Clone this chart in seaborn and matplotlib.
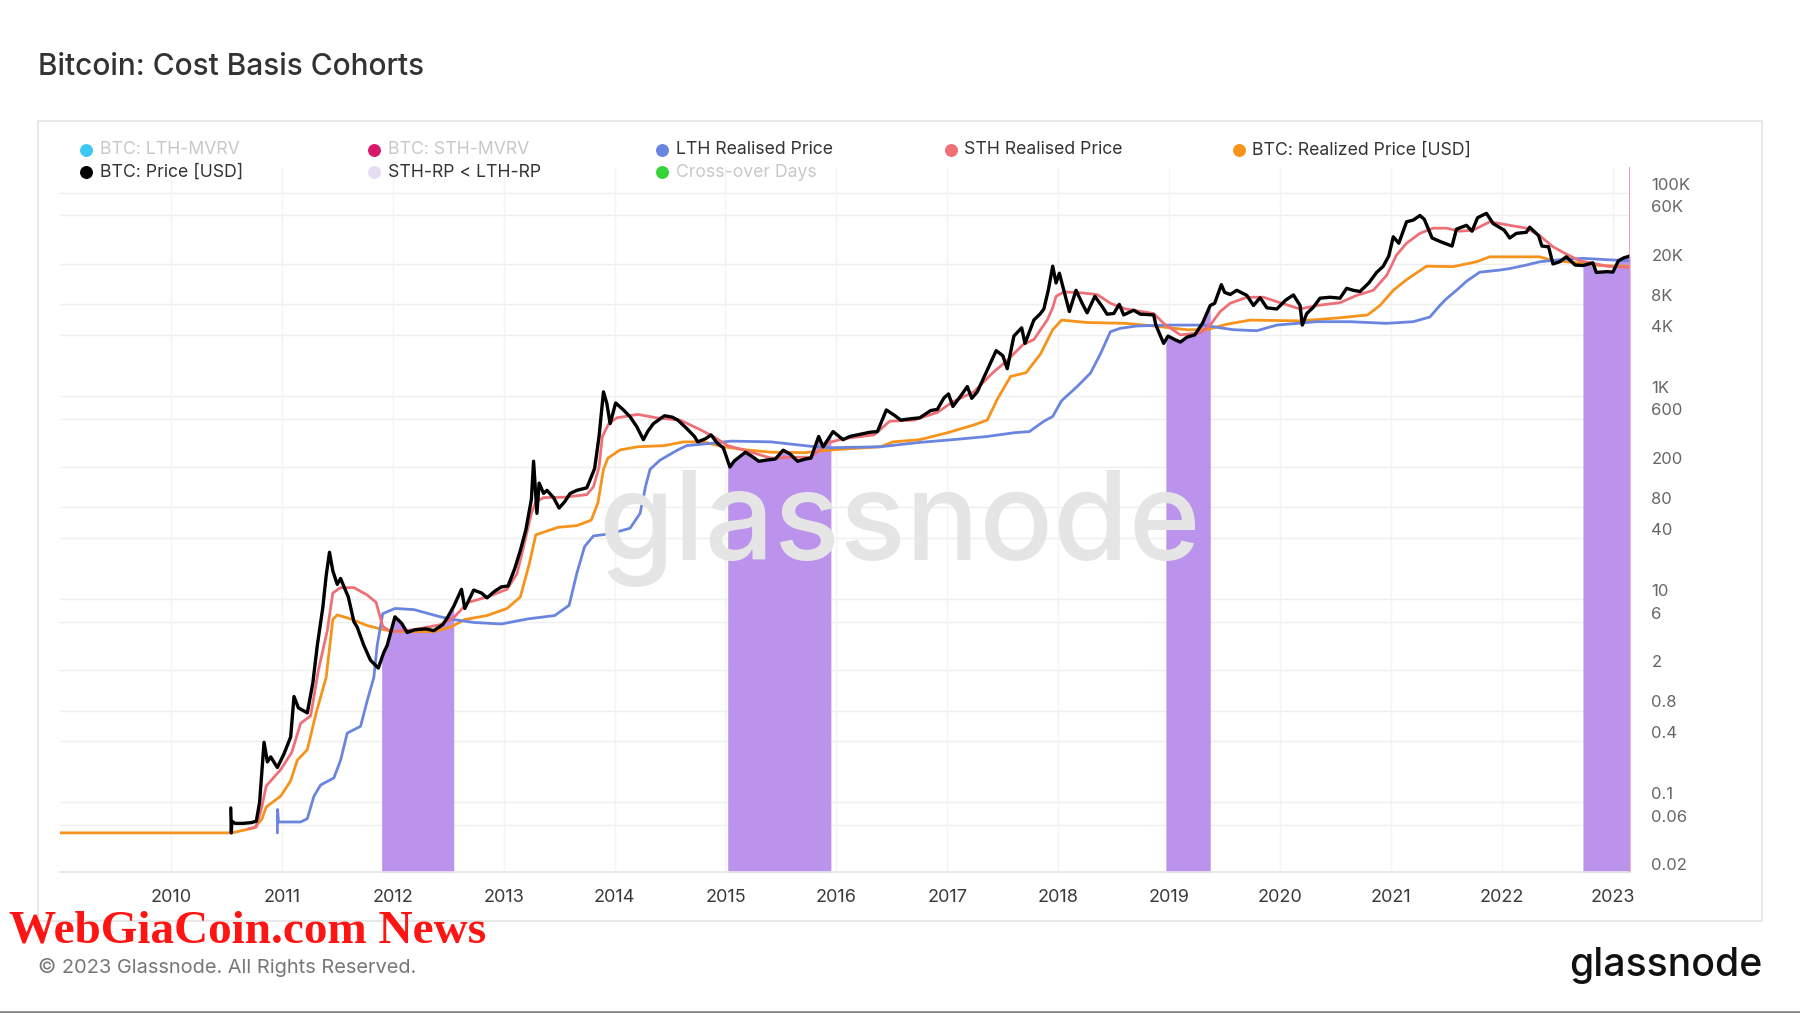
import numpy as np
import matplotlib
matplotlib.use("Agg")
import matplotlib.pyplot as plt
import matplotlib.transforms as mtransforms
from matplotlib.lines import Line2D
from matplotlib.patches import Rectangle
import seaborn as sns

# ---------------------------------------------------------------------------
# Data (x = fractional year, y = USD)
# ---------------------------------------------------------------------------
price_year = [2010.54, 2010.545, 2010.55, 2010.58, 2010.65, 2010.72, 2010.77, 2010.80, 2010.84, 2010.87,
              2010.90, 2010.96, 2011.02, 2011.08, 2011.11, 2011.15, 2011.23, 2011.28, 2011.32, 2011.37,
              2011.40, 2011.43, 2011.46, 2011.50, 2011.53, 2011.56, 2011.60, 2011.65, 2011.68, 2011.74,
              2011.80, 2011.87, 2011.92, 2011.95, 2012.02, 2012.08, 2012.13, 2012.20, 2012.30, 2012.37,
              2012.45, 2012.49, 2012.55, 2012.62, 2012.65, 2012.70, 2012.73, 2012.80, 2012.85, 2012.92,
              2012.98, 2013.04, 2013.10, 2013.15, 2013.20, 2013.25, 2013.27, 2013.30, 2013.32, 2013.36,
              2013.39, 2013.45, 2013.50, 2013.55, 2013.60, 2013.66, 2013.75, 2013.82, 2013.86, 2013.90,
              2013.93, 2013.96, 2014.01, 2014.08, 2014.14, 2014.20, 2014.26, 2014.30, 2014.35, 2014.45,
              2014.52, 2014.57, 2014.65, 2014.72, 2014.75, 2014.82, 2014.87, 2014.93, 2014.98, 2015.04,
              2015.08, 2015.18, 2015.25, 2015.30, 2015.38, 2015.45, 2015.52, 2015.58, 2015.65, 2015.72,
              2015.77, 2015.84, 2015.88, 2015.97, 2016.06, 2016.12, 2016.21, 2016.30, 2016.37, 2016.45,
              2016.52, 2016.58, 2016.68, 2016.75, 2016.85, 2016.91, 2016.97, 2017.01, 2017.05, 2017.12,
              2017.18, 2017.22, 2017.27, 2017.36, 2017.44, 2017.50, 2017.54, 2017.60, 2017.67, 2017.70,
              2017.78, 2017.84, 2017.87, 2017.91, 2017.95, 2017.98, 2018.01, 2018.05, 2018.10, 2018.16,
              2018.22, 2018.26, 2018.33, 2018.40, 2018.44, 2018.50, 2018.55, 2018.59, 2018.68, 2018.74,
              2018.86, 2018.88, 2018.95, 2018.99, 2019.05, 2019.10, 2019.16, 2019.23, 2019.30, 2019.37,
              2019.41, 2019.47, 2019.50, 2019.55, 2019.61, 2019.70, 2019.76, 2019.82, 2019.88, 2019.97,
              2020.05, 2020.12, 2020.18, 2020.20, 2020.24, 2020.30, 2020.36, 2020.45, 2020.54, 2020.60,
              2020.66, 2020.72, 2020.80, 2020.87, 2020.93, 2020.98, 2021.02, 2021.07, 2021.14, 2021.20,
              2021.26, 2021.30, 2021.37, 2021.45, 2021.55, 2021.59, 2021.68, 2021.73, 2021.78, 2021.86,
              2021.92, 2022.02, 2022.07, 2022.13, 2022.22, 2022.25, 2022.33, 2022.36, 2022.42, 2022.46,
              2022.52, 2022.58, 2022.66, 2022.73, 2022.82, 2022.85, 2022.95, 2023.00, 2023.05, 2023.10,
              2023.13, 2023.155]
price_usd = [0.088, 0.05, 0.065, 0.062, 0.062, 0.063, 0.065, 0.1, 0.39, 0.25,
             0.28, 0.22, 0.3, 0.44, 1.1, 0.85, 0.76, 1.5, 3.5, 8.3,
             17, 29, 19, 14, 16, 13.3, 10.5, 6.0, 5.3, 3.5,
             2.5, 2.1, 3.0, 3.5, 6.7, 5.8, 4.7, 5.0, 5.1, 4.9,
             5.6, 6.5, 8.5, 12.5, 8.1, 10.5, 12.3, 11.5, 10.3, 12.0,
             13.2, 13.5, 20, 30, 48, 96, 228, 70, 139, 110,
             118, 100, 79, 91, 110, 118, 125, 193, 400, 1100,
             850, 535, 855, 730, 625, 500, 372, 450, 535, 640,
             620, 580, 480, 400, 354, 380, 414, 340, 310, 200,
             230, 280, 250, 228, 235, 240, 293, 270, 228, 240,
             245, 400, 316, 447, 372, 400, 420, 440, 447, 730,
             650, 580, 600, 610, 720, 740, 960, 1050, 790, 1000,
             1240, 950, 1100, 1800, 2800, 2500, 1860, 3900, 4700, 3300,
             5600, 6500, 7200, 11000, 19000, 13000, 16200, 11000, 6800, 11000,
             8000, 6600, 9600, 7500, 6400, 6500, 8000, 6300, 7000, 6400,
             6300, 5000, 3300, 3900, 3600, 3400, 3800, 4000, 5200, 7800,
             8200, 12500, 10500, 10000, 11000, 9800, 7800, 9300, 7400, 7200,
             8800, 9900, 7800, 5000, 6500, 7500, 9200, 9400, 9200, 11500,
             11000, 10700, 13000, 16500, 19000, 24000, 37000, 32000, 52000, 54000,
             60000, 55000, 36000, 33000, 30000, 44000, 48000, 42000, 57000, 63000,
             50000, 43000, 36000, 40000, 41000, 46000, 38000, 30000, 29500, 20000,
             21000, 23500, 19500, 19300, 20500, 16500, 16800, 16600, 21500, 23000,
             23500, 24000]

lth_year = [2010.96, 2010.962, 2010.97, 2011.17, 2011.23, 2011.29, 2011.35, 2011.47, 2011.53, 2011.59,
            2011.71, 2011.77, 2011.83, 2011.86, 2011.91, 2012.02, 2012.19, 2012.43, 2012.55, 2012.73,
            2012.98, 2013.22, 2013.46, 2013.59, 2013.66, 2013.73, 2013.81, 2013.96, 2014.14, 2014.23,
            2014.28, 2014.32, 2014.41, 2014.57, 2014.65, 2014.84, 2015.05, 2015.41, 2015.77, 2015.95,
            2016.40, 2016.75, 2017.05, 2017.36, 2017.60, 2017.74, 2017.87, 2017.95, 2018.03, 2018.17,
            2018.29, 2018.38, 2018.47, 2018.56, 2018.71, 2019.01, 2019.31, 2019.46, 2019.58, 2019.79,
            2019.97, 2020.33, 2020.63, 2020.96, 2021.20, 2021.35, 2021.44, 2021.50, 2021.59, 2021.68,
            2021.80, 2021.98, 2022.07, 2022.22, 2022.34, 2022.52, 2022.73, 2022.95, 2023.155]
lth_usd = [0.05, 0.085, 0.064, 0.064, 0.069, 0.115, 0.148, 0.174, 0.26, 0.48,
           0.56, 1.0, 1.7, 3.5, 7.2, 8.1, 7.9, 6.7, 6.3, 5.9,
           5.7, 6.4, 6.9, 8.7, 18, 33, 42, 44, 50, 70,
           130, 190, 234, 295, 325, 340, 360, 354, 320, 310,
           317, 350, 372, 400, 435, 447, 565, 630, 900, 1240,
           1680, 2600, 4300, 4650, 4900, 5000, 5000, 4700, 4500, 4400,
           5000, 5400, 5400, 5200, 5400, 6000, 7800, 9100, 11000, 13500,
           16600, 17400, 18000, 19500, 21000, 22000, 22700, 22000, 21500]

sth_year = [2010.70, 2010.77, 2010.82, 2010.86, 2010.99, 2011.09, 2011.17, 2011.26, 2011.33, 2011.41,
            2011.46, 2011.53, 2011.65, 2011.77, 2011.85, 2011.91, 2011.98, 2012.19, 2012.43, 2012.55,
            2012.68, 2012.85, 2013.03, 2013.12, 2013.18, 2013.25, 2013.29, 2013.36, 2013.55, 2013.75,
            2013.81, 2013.86, 2013.89, 2013.95, 2014.02, 2014.21, 2014.38, 2014.59, 2014.75, 2014.89,
            2015.02, 2015.16, 2015.41, 2015.62, 2015.77, 2015.92, 2016.06, 2016.34, 2016.48, 2016.70,
            2016.91, 2017.05, 2017.24, 2017.41, 2017.54, 2017.68, 2017.78, 2017.84, 2017.90, 2017.95,
            2017.98, 2018.05, 2018.20, 2018.35, 2018.47, 2018.61, 2018.86, 2018.95, 2019.10, 2019.28,
            2019.37, 2019.46, 2019.55, 2019.70, 2019.85, 2020.00, 2020.18, 2020.33, 2020.54, 2020.69,
            2020.84, 2020.96, 2021.05, 2021.14, 2021.26, 2021.38, 2021.50, 2021.62, 2021.74, 2021.89,
            2021.98, 2022.07, 2022.22, 2022.34, 2022.46, 2022.58, 2022.70, 2022.82, 2022.95, 2023.155]
sth_usd = [0.055, 0.057, 0.09, 0.145, 0.21, 0.31, 0.6, 0.71, 2.0, 4.9,
           11.5, 13, 13, 11, 9.3, 5.4, 4.8, 5.0, 5.6, 6.6,
           9.3, 10.5, 12.5, 17.8, 33, 70, 91, 100, 101, 107,
           128, 200, 400, 540, 610, 660, 610, 580, 480, 400,
           325, 295, 245, 250, 250, 345, 380, 415, 565, 580,
           690, 880, 1100, 1700, 2240, 3200, 3600, 4500, 5600, 7400,
           9600, 10600, 10400, 10000, 8200, 7200, 6500, 5200, 4000, 4200,
           5000, 6800, 8200, 9400, 9400, 8300, 7200, 7800, 8300, 9800,
           11000, 15400, 24500, 32000, 40000, 45000, 45000, 42000, 43000, 52000,
           50000, 48000, 45000, 38000, 29500, 25000, 21500, 20300, 19000, 18500]

rp_year = [2009.0, 2010.55, 2010.75, 2010.82, 2010.86, 2010.99, 2011.08, 2011.14, 2011.23, 2011.31,
           2011.40, 2011.46, 2011.50, 2011.62, 2011.77, 2011.92, 2012.06, 2012.37, 2012.52, 2012.65,
           2012.85, 2013.03, 2013.15, 2013.23, 2013.29, 2013.49, 2013.66, 2013.79, 2013.85, 2013.90,
           2013.94, 2014.05, 2014.21, 2014.45, 2014.62, 2014.80, 2014.98, 2015.19, 2015.41, 2015.71,
           2015.95, 2016.40, 2016.51, 2016.75, 2017.00, 2017.24, 2017.36, 2017.45, 2017.57, 2017.71,
           2017.84, 2017.95, 2018.03, 2018.26, 2018.60, 2018.86, 2019.16, 2019.34, 2019.52, 2019.73,
           2020.18, 2020.54, 2020.79, 2020.90, 2021.02, 2021.14, 2021.32, 2021.56, 2021.77, 2021.89,
           2022.34, 2022.46, 2022.70, 2022.88, 2023.155]
rp_usd = [0.05, 0.05, 0.056, 0.068, 0.09, 0.115, 0.163, 0.26, 0.33, 0.76,
          1.7, 6.3, 7.0, 6.4, 5.5, 5.0, 4.8, 4.8, 5.3, 6.3,
          6.9, 8.1, 10.5, 22, 43, 51, 53, 60, 89, 190,
          245, 295, 317, 325, 354, 354, 317, 295, 280, 277,
          295, 317, 354, 372, 435, 520, 580, 930, 1560, 1700,
          2600, 4500, 5600, 5300, 5200, 4900, 4500, 4500, 5100, 5600,
          5500, 5900, 6300, 7800, 11000, 14000, 19000, 18800, 21000, 23500,
          23500, 21600, 20400, 19300, 18900]

# periods where STH realised price < LTH realised price
cross_start = [2011.90, 2015.02, 2018.97, 2022.73]
cross_end = [2012.55, 2015.95, 2019.37, 2023.155]

ytick_vals = [1e5, 6e4, 2e4, 8e3, 4e3, 1e3, 600, 200, 80, 40, 10, 6, 2, 0.8, 0.4, 0.1, 0.06, 0.02]
ytick_labels = ['100K', '60K', '20K', '8K', '4K', '1K', '600', '200', '80', '40',
                '10', '6', '2', '0.8', '0.4', '0.1', '0.06', '0.02']
xtick_years = list(range(2010, 2024))

legend_labels = ['BTC: LTH-MVRV', 'BTC: STH-MVRV', 'LTH Realised Price', 'STH Realised Price',
                 'BTC: Realized Price [USD]', 'BTC: Price [USD]', 'STH-RP < LTH-RP', 'Cross-over Days']
legend_colors = ['#3ec6f5', '#d8196a', '#6a85e0', '#ee7076', '#f7931a', '#000000', '#e6dcf6', '#35d535']
legend_active = [False, False, True, True, True, True, True, False]

# colours
C_PRICE = '#000000'
C_LTH = '#6a85e0'
C_STH = '#ee7076'
C_RP = '#f7931a'
C_FILL = '#bb93ec'

# ---------------------------------------------------------------------------
sns.set_theme(style='white')
plt.rcParams['font.family'] = ['Inter', 'DejaVu Sans']

fig = plt.figure(figsize=(18, 10.13), dpi=100)
fig.patch.set_facecolor('white')

# card frame
fig.add_artist(Rectangle((0.0211, 0.0908), 0.958, 0.790, transform=fig.transFigure,
                         facecolor='white', edgecolor='#e4e4e4', linewidth=1.2, zorder=0))

ax = fig.add_axes([0.0333, 0.139, 0.8723, 0.6966])
ax.set_facecolor('none')
ax.set_yscale('log')

# shaded STH-RP < LTH-RP windows, up to the price line
px = np.array(price_year)
py = np.array(price_usd)
ybot = 0.0205
for x0, x1 in zip(cross_start, cross_end):
    inside = (px > x0) & (px < x1)
    xs = np.concatenate([[x0], px[inside], [x1]])
    ys = np.concatenate([[np.interp(x0, px, py)], py[inside], [np.interp(x1, px, py)]])
    ax.fill_between(xs, ybot, ys, color=C_FILL, linewidth=0, zorder=1)

sns.lineplot(x=rp_year, y=rp_usd, ax=ax, color=C_RP, linewidth=2.0, estimator=None, sort=False, zorder=3)
sns.lineplot(x=lth_year, y=lth_usd, ax=ax, color=C_LTH, linewidth=2.0, estimator=None, sort=False, zorder=3)
sns.lineplot(x=sth_year, y=sth_usd, ax=ax, color=C_STH, linewidth=2.0, estimator=None, sort=False, zorder=4)
sns.lineplot(x=price_year, y=price_usd, ax=ax, color=C_PRICE, linewidth=2.4, estimator=None, sort=False, zorder=5)

ax.set_xlim(2009.0, 2023.155)
ax.set_ylim(ybot, 1.82e5)
ax.set_xlabel('')
ax.set_ylabel('')

# grid
for v in ytick_vals:
    ax.axhline(v, color='#efefef', linewidth=1, zorder=0)
for yr in xtick_years:
    ax.axvline(yr, color='#f4f4f4', linewidth=1, zorder=0)

ax.set_xticks(xtick_years)
ax.set_xticklabels([str(y) for y in xtick_years], fontsize=13, color='#3a3a3a')
ax.tick_params(axis='x', length=0, pad=12)
ax.set_yticks([])
ax.yaxis.set_minor_locator(matplotlib.ticker.NullLocator())

for s in ['top', 'left', 'right']:
    ax.spines[s].set_visible(False)
ax.spines['bottom'].set_color('#e6e6e6')
ax.spines['bottom'].set_linewidth(1.2)
ax.axvline(2023.155, color='#f08aa8', linewidth=1.2, zorder=6)

# right-hand tick labels, sitting just above their gridlines
ytrans = mtransforms.offset_copy(ax.get_yaxis_transform(), fig=fig, y=5.5, units='points')
for v, lab in zip(ytick_vals, ytick_labels):
    ax.text(1.0135, v, lab, transform=ytrans, ha='left', va='center',
            fontsize=12, color='#666666', clip_on=False)

# watermark
fig.text(0.5, 0.478, 'glassnode', ha='center', va='center', fontsize=88,
         color='#e5e5e5', fontweight='medium', zorder=0.5)

# legend (two rows)
leg_x = [0.0478, 0.2078, 0.3678, 0.5283, 0.6883, 0.0478, 0.2078, 0.3678]
leg_y = [0.852] * 5 + [0.830] * 3
for x, y, lab, col, act in zip(leg_x, leg_y, legend_labels, legend_colors, legend_active):
    fig.add_artist(Line2D([x], [y], marker='o', markersize=8.3, color=col, linestyle='none',
                          transform=fig.transFigure))
    fig.text(x + 0.0075, y, lab, ha='left', va='center', fontsize=12.7,
             color='#333333' if act else '#c8c8c8')

# title and footer
fig.text(0.0211, 0.934, 'Bitcoin: Cost Basis Cohorts', ha='left', va='center',
         fontsize=21.5, color='#333333', fontweight='medium')
fig.text(0.0211, 0.0445, '\u00a9 2023 Glassnode. All Rights Reserved.', ha='left', va='center',
         fontsize=14.4, color='#777777')
fig.text(0.979, 0.047, 'glassnode', ha='right', va='center', fontsize=28.2,
         color='#111111', fontweight='medium')
fig.text(0.005, 0.080, 'WebGiaCoin.com News', ha='left', va='center', fontsize=34,
         color='#ff1414', fontweight='bold',
         family=['Liberation Serif', 'DejaVu Serif'], zorder=10)
fig.add_artist(Line2D([0, 1], [0.001, 0.001], color='#888888', linewidth=2,
                      transform=fig.transFigure))

plt.savefig('out.png', dpi=100, facecolor='white')
